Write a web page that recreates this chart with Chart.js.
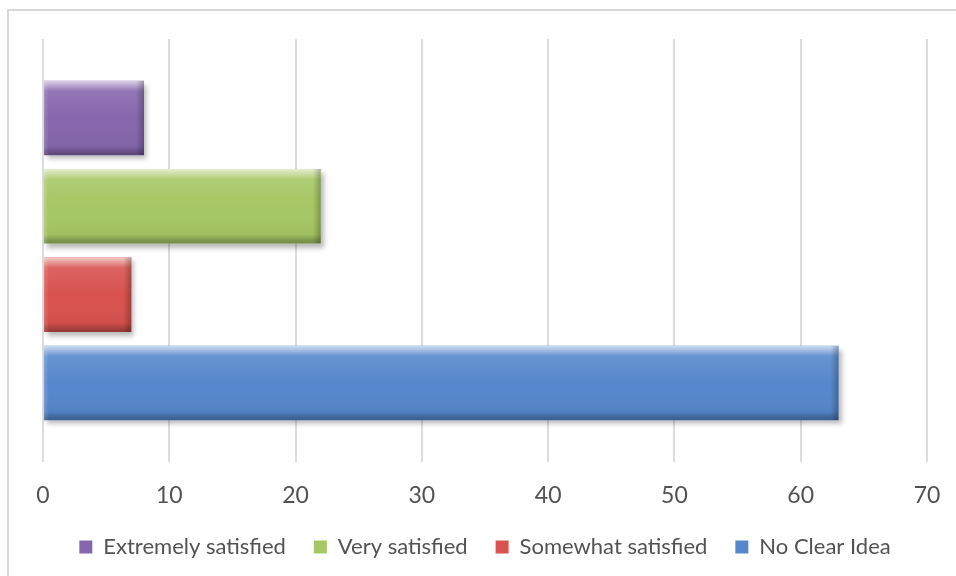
<!DOCTYPE html>
<html>
<head>
<meta charset="utf-8">
<script src="https://cdn.jsdelivr.net/npm/chart.js@4"></script>
<style>
  html, body { margin: 0; padding: 0; background: #fff; overflow: hidden; }
  #frame {
    position: absolute; left: 7px; top: 9px; width: 1000px; height: 700px;
    border-left: 2px solid #d9d9d9; border-top: 2px solid #d9d9d9;
  }
  #wrap { position: absolute; left: 0; top: 0; width: 956px; height: 576px; }
</style>
</head>
<body>
<div id="frame"></div>
<div id="wrap"><canvas id="myChart" width="956" height="576"></canvas></div>
<script>
const categories = [''];
const seriesNames = ['Extremely satisfied', 'Very satisfied', 'Somewhat satisfied', 'No Clear Idea'];
const extremelySatisfied = [8];
const verySatisfied = [22];
const somewhatSatisfied = [7];
const noClearIdea = [63];
const xTicks = [0, 10, 20, 30, 40, 50, 60, 70];

const colors = ['#8667ad', '#a6c764', '#d8524f', '#5687cc'];
const FONT = 'Lato, "Open Sans", sans-serif';

// glossy bevel over each bar, drop shadow under it
const bevelBars = {
    id: 'bevelBars',
    beforeDatasetDraw(chart) {
        const c = chart.ctx;
        c.save();
        c.shadowColor = 'rgba(0,0,0,0.28)';
        c.shadowBlur = 5;
        c.shadowOffsetX = 3;
        c.shadowOffsetY = 4;
    },
    afterDatasetDraw(chart) {
        chart.ctx.restore();
    },
    afterDatasetsDraw(chart) {
        const c = chart.ctx;
        chart.data.datasets.forEach((ds, i) => {
            chart.getDatasetMeta(i).data.forEach(bar => {
                const p = bar.getProps(['x', 'y', 'base', 'height'], true);
                const left = Math.min(p.base, p.x), right = Math.max(p.base, p.x);
                const top = p.y - p.height / 2, h = p.height, w = right - left;
                c.save();
                c.beginPath();
                c.rect(left, top, w, h);
                c.clip();
                let g = c.createLinearGradient(0, top, 0, top + h);
                g.addColorStop(0, 'rgba(255,255,255,0.7)');
                g.addColorStop(0.07, 'rgba(255,255,255,0.4)');
                g.addColorStop(0.14, 'rgba(255,255,255,0.1)');
                g.addColorStop(0.5, 'rgba(255,255,255,0)');
                g.addColorStop(0.88, 'rgba(0,0,0,0.04)');
                g.addColorStop(0.94, 'rgba(0,0,0,0.2)');
                g.addColorStop(1, 'rgba(0,0,0,0.32)');
                c.fillStyle = g;
                c.fillRect(left, top, w, h);
                g = c.createLinearGradient(left, 0, right, 0);
                const e = Math.min(0.5, 8 / w);
                g.addColorStop(0, 'rgba(255,255,255,0.18)');
                g.addColorStop(e * 0.6, 'rgba(255,255,255,0)');
                g.addColorStop(1 - e, 'rgba(0,0,0,0)');
                g.addColorStop(1, 'rgba(0,0,0,0.25)');
                c.fillStyle = g;
                c.fillRect(left, top, w, h);
                c.restore();
            });
        });
    }
};

const ctx = document.getElementById('myChart').getContext('2d');
const myChart = new Chart(ctx, {
    type: 'bar',
    data: {
        labels: categories,
        datasets: [{
            label: seriesNames[0],
            data: extremelySatisfied,
            backgroundColor: colors[0]
        }, {
            label: seriesNames[1],
            data: verySatisfied,
            backgroundColor: colors[1]
        }, {
            label: seriesNames[2],
            data: somewhatSatisfied,
            backgroundColor: colors[2]
        }, {
            label: seriesNames[3],
            data: noClearIdea,
            backgroundColor: colors[3]
        }]
    },
    options: {
        indexAxis: 'y',
        responsive: false,
        animation: false,
        devicePixelRatio: 1,
        categoryPercentage: 0.836,
        barPercentage: 0.843,
        layout: { padding: { top: 39, bottom: 8, left: 43, right: 29 } },
        scales: {
            x: {
                min: xTicks[0],
                max: xTicks[xTicks.length - 1],
                border: { display: false },
                // invisible tick marks keep the labels clear of the plot
                grid: { color: '#dcdcdc', lineWidth: 2, tickLength: 20, tickColor: 'rgba(0,0,0,0)' },
                ticks: {
                    stepSize: xTicks[1] - xTicks[0],
                    padding: 0,
                    color: '#525252',
                    font: { family: FONT, size: 23 }
                },
                afterFit(scale) { scale.height = 46; }
            },
            y: { display: false }
        },
        plugins: {
            tooltip: { enabled: false },
            legend: {
                position: 'bottom',
                labels: {
                    boxWidth: 13,
                    boxHeight: 13,
                    padding: 28,
                    color: '#525252',
                    font: { family: FONT, size: 22 }
                }
            }
        }
    },
    plugins: [bevelBars]
});
</script>
</body>
</html>
